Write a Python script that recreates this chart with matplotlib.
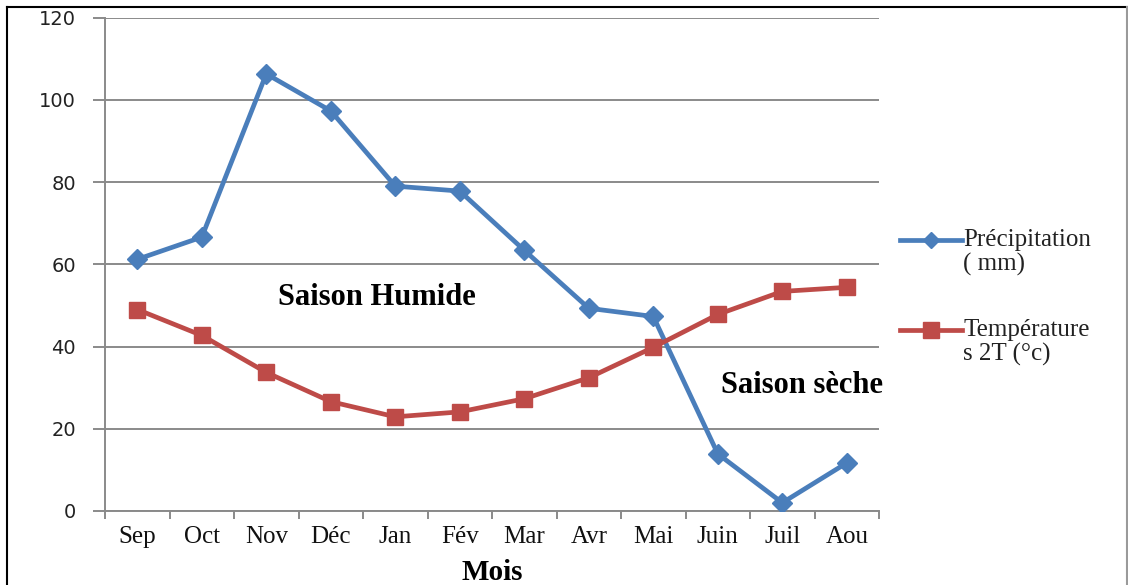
import matplotlib
matplotlib.use("Agg")
import matplotlib.pyplot as plt
from matplotlib.lines import Line2D
from matplotlib.ticker import FixedLocator, NullFormatter

# Monthly climate data
months = ["Sep", "Oct", "Nov", "Déc", "Jan", "Fév", "Mar", "Avr", "Mai", "Juin", "Juil", "Aou"]
precipitation = [61.2, 66.6, 106.3, 97.3, 79.0, 77.8, 63.4, 49.3, 47.3, 13.9, 2.0, 11.7]
temperature = [49.0, 42.7, 33.7, 26.6, 22.9, 24.1, 27.3, 32.4, 39.8, 47.8, 53.4, 54.4]
y_ticks = [0, 20, 40, 60, 80, 100, 120]

blue = "#4a7ebb"
red = "#be4b48"
grid_col = "#8a8a8a"
serif = ["Liberation Serif", "DejaVu Serif"]

fig = plt.figure(figsize=(11.28, 5.85), dpi=100)
ax = fig.add_axes([0.0931, 0.1265, 0.6862, 0.8435])

x = list(range(len(months)))
ax.plot(x, precipitation, color=blue, lw=3.4, marker="D", markersize=10.5,
        markerfacecolor=blue, markeredgecolor=blue, zorder=3)
ax.plot(x, temperature, color=red, lw=3.4, marker="s", markersize=11.5,
        markerfacecolor=red, markeredgecolor=red, zorder=3)

ax.set_xlim(-0.5, len(months) - 0.5)
ax.set_ylim(0, 120)
ax.set_yticks(y_ticks)
ax.set_yticklabels([str(v) for v in y_ticks], fontsize=14, color="#222222",
                   family="DejaVu Sans")
ax.yaxis.grid(True, color=grid_col, lw=1.4)
ax.set_axisbelow(True)

# Category labels centred, tick marks on the boundaries
ax.set_xticks(x)
ax.set_xticklabels(months, fontsize=18, family=serif, color="#111111")
ax.tick_params(axis="x", which="major", length=0, pad=11)
ax.xaxis.set_minor_locator(FixedLocator([i - 0.5 for i in range(len(months) + 1)]))
ax.xaxis.set_minor_formatter(NullFormatter())
ax.tick_params(axis="x", which="minor", length=6, width=1.4, color=grid_col)
ax.tick_params(axis="y", length=9, width=1.4, color=grid_col, pad=12)

for side in ("top", "right"):
    ax.spines[side].set_visible(False)
for side in ("left", "bottom"):
    ax.spines[side].set_color(grid_col)
    ax.spines[side].set_linewidth(1.4)

ax.set_xlabel("Mois", fontsize=21, fontweight="bold", family=serif, labelpad=8)

ax.text(3.72, 52, "Saison Humide", fontsize=22, fontweight="bold", family=serif,
        ha="center", va="center")
ax.text(10.3, 30.5, "Saison sèche", fontsize=22, fontweight="bold", family=serif,
        ha="center", va="center", clip_on=False)

# Legend drawn in figure pixel space on the right
W, H = 1128, 585


def fx(px):
    return px / W


def fy(py):
    return 1 - py / H


entries = [
    (240, blue, "D", 8, ["Précipitation", "( mm)"]),
    (330, red, "s", 11, ["Température", "s 2T (°c)"]),
]
for ypix, col, mk, ms, lines in entries:
    fig.add_artist(Line2D([fx(900), fx(962)], [fy(ypix), fy(ypix)], color=col, lw=3.4))
    fig.add_artist(Line2D([fx(931)], [fy(ypix)], color=col, marker=mk, markersize=ms,
                          markerfacecolor=col, markeredgecolor=col))
    for k, line in enumerate(lines):
        fig.text(fx(963), fy(ypix + k * 24), line, fontsize=18, family=serif,
                 ha="left", va="center", color="#222222")

# Outer frame
fig.add_artist(Line2D([fx(7), fx(1127)], [fy(7), fy(7)], color="black", lw=1.5))
fig.add_artist(Line2D([fx(7), fx(7)], [fy(7), 0], color="black", lw=1.5))
fig.add_artist(Line2D([fx(1127), fx(1127)], [fy(7), 0], color="#9a9a9a", lw=1.5))

fig.savefig("out.png", dpi=100)
